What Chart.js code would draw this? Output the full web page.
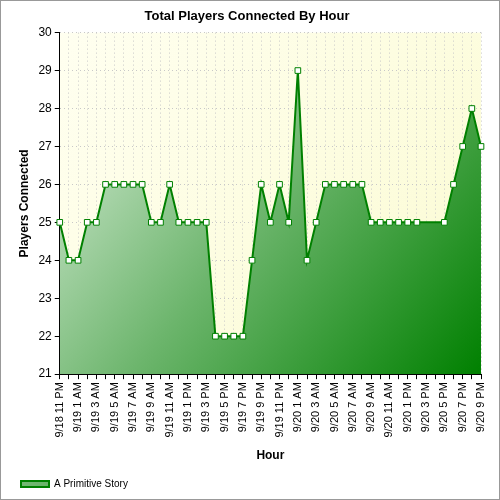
<!DOCTYPE html>
<html><head><meta charset="utf-8">
<script src="https://cdn.jsdelivr.net/npm/chart.js@4"></script>
<style>
body{margin:0;background:#fff}
#wrap{width:498px;height:498px;border:1px solid #999;position:relative}
</style></head>
<body><div id="wrap"><canvas id="c" width="498" height="498"></canvas></div>
<script>
// hourly labels, every other one shown
const hours = ['9/18 11 PM','9/19 12 AM','9/19 1 AM','9/19 2 AM','9/19 3 AM','9/19 4 AM','9/19 5 AM','9/19 6 AM','9/19 7 AM','9/19 8 AM','9/19 9 AM','9/19 10 AM','9/19 11 AM','9/19 12 PM','9/19 1 PM','9/19 2 PM','9/19 3 PM','9/19 4 PM','9/19 5 PM','9/19 6 PM','9/19 7 PM','9/19 8 PM','9/19 9 PM','9/19 10 PM','9/19 11 PM','9/20 12 AM','9/20 1 AM','9/20 2 AM','9/20 3 AM','9/20 4 AM','9/20 5 AM','9/20 6 AM','9/20 7 AM','9/20 8 AM','9/20 9 AM','9/20 10 AM','9/20 11 AM','9/20 12 PM','9/20 1 PM','9/20 2 PM','9/20 3 PM','9/20 4 PM','9/20 5 PM','9/20 6 PM','9/20 7 PM','9/20 8 PM','9/20 9 PM'];
const players = [25,24,24,25,25,26,26,26,26,26,25,25,26,25,25,25,25,22,22,22,22,24,26,25,26,25,29,24,25,26,26,26,26,26,25,25,25,25,25,25,null,null,25,26,27,28,27];

// PLOT BACKGROUND
const bgPlugin = {
    id:'bg',
    beforeDraw(chart){
        let a = chart.chartArea, ctx = chart.ctx;
        let g = ctx.createLinearGradient(a.left,a.top,a.right,a.bottom);
        g.addColorStop(0,'#fffff0');
        g.addColorStop(1,'#fbfbd2');
        ctx.save();
        ctx.fillStyle = g;
        ctx.fillRect(a.left,a.top,a.right-a.left,a.bottom-a.top);
        ctx.restore();
    }
};

function fillGrad(context){
    let a = context.chart.chartArea;
    if (!a) return 'rgba(0,128,0,0.5)';
    let g = context.chart.ctx.createLinearGradient(a.left,a.top,a.right,a.bottom);
    g.addColorStop(0,'#e4f2e4');
    g.addColorStop(0.5,'#6cb56c');
    g.addColorStop(1,'#008000');
    return g;
};

new Chart(document.getElementById('c'), {
    type:'line',
    data:{
        labels:hours,
        datasets:[{
            label:'A Primitive Story',
            data:players,
            borderColor:'#008000',
            borderWidth:2,
            backgroundColor:fillGrad,
            fill:'start',
            spanGaps:true,
            tension:0,
            pointStyle:'rect',
            pointRadius:4,
            pointBackgroundColor:'#fff',
            pointBorderColor:'#008000',
            pointBorderWidth:1
        }]
    },
    options:{
        responsive:false,
        animation:false,
        layout:{padding:{left:12,right:18,top:0,bottom:0}},
        plugins:{
            title:{display:true,text:'Total Players Connected By Hour',font:{family:'Arial, Liberation Sans',size:13,weight:'bold'},color:'#000',padding:{top:8,bottom:8}},
            legend:{position:'bottom',align:'start',labels:{boxWidth:28,boxHeight:6,padding:8,color:'#000',font:{family:'Liberation Sans',size:10}}},
            tooltip:{enabled:false}
        },
        scales:{
            x:{
                offset:false,
                title:{display:true,text:'Hour',font:{family:'Liberation Sans',size:12,weight:'bold'},color:'#000',padding:{top:8,bottom:8}},
                grid:{color:'#c8c8c8',drawTicks:true,tickColor:'#000',tickLength:5},
                border:{color:'#000',dash:[1,3]},
                ticks:{autoSkip:false,maxRotation:90,minRotation:90,color:'#000',font:{family:'Liberation Sans',size:11},
                    callback:function(v,i){ return i%2===0 ? hours[i] : ''; }}
            },
            y:{
                min:21,max:30,
                title:{display:true,text:'Players Connected',font:{family:'Liberation Sans',size:12,weight:'bold'},color:'#000'},
                grid:{color:'#c8c8c8',tickColor:'#000',tickLength:5},
                border:{color:'#000',dash:[1,3]},
                ticks:{stepSize:1,color:'#000',font:{family:'Liberation Sans',size:12}}
            }
        }
    },
    plugins:[bgPlugin]
});
</script></body></html>
